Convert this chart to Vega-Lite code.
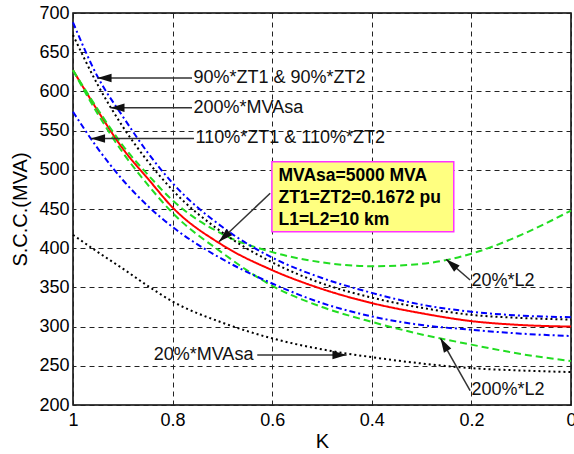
{
  "$schema": "https://vega.github.io/schema/vega-lite/v6.json",
  "width": 498,
  "height": 392,
  "autosize": {"type": "none"},
  "padding": {"left": 73, "top": 13, "right": 3, "bottom": 49},
  "background": "white",
  "config": {
    "font": "Liberation Sans",
    "view": {"stroke": "black", "strokeWidth": 1.5},
    "axis": {
      "grid": true,
      "gridColor": "#222222",
      "gridDash": [5, 4],
      "gridWidth": 1,
      "gridOpacity": 1,
      "domain": false,
      "ticks": false,
      "labelOverlap": false,
      "labelFlush": false,
      "labelFont": "Liberation Sans",
      "labelFontSize": 18,
      "labelColor": "black",
      "titleFont": "Liberation Sans",
      "titleFontSize": 20,
      "titleFontWeight": "normal",
      "titleColor": "black"
    }
  },
  "datasets": {
    "curves": [
      {"K": 1, "v": 627, "s": "base"}, {"K": 0.95, "v": 575, "s": "base"}, {"K": 0.9, "v": 527, "s": "base"}, {"K": 0.85, "v": 489, "s": "base"}, {"K": 0.8, "v": 452, "s": "base"}, {"K": 0.7, "v": 404, "s": "base"}, {"K": 0.6, "v": 372, "s": "base"}, {"K": 0.5, "v": 348, "s": "base"}, {"K": 0.4, "v": 330, "s": "base"}, {"K": 0.3, "v": 317, "s": "base"}, {"K": 0.2, "v": 307, "s": "base"}, {"K": 0.1, "v": 302, "s": "base"}, {"K": 0, "v": 300, "s": "base"},
      {"K": 1, "v": 627, "s": "L2_20"}, {"K": 0.95, "v": 577, "s": "L2_20"}, {"K": 0.9, "v": 531, "s": "L2_20"}, {"K": 0.85, "v": 494, "s": "L2_20"}, {"K": 0.8, "v": 461, "s": "L2_20"}, {"K": 0.7, "v": 418, "s": "L2_20"}, {"K": 0.6, "v": 395, "s": "L2_20"}, {"K": 0.5, "v": 382, "s": "L2_20"}, {"K": 0.4, "v": 377, "s": "L2_20"}, {"K": 0.3, "v": 380, "s": "L2_20"}, {"K": 0.2, "v": 393, "s": "L2_20"}, {"K": 0.1, "v": 417, "s": "L2_20"}, {"K": 0, "v": 448, "s": "L2_20"},
      {"K": 1, "v": 627, "s": "L2_200"}, {"K": 0.95, "v": 571, "s": "L2_200"}, {"K": 0.9, "v": 522, "s": "L2_200"}, {"K": 0.85, "v": 481, "s": "L2_200"}, {"K": 0.8, "v": 445, "s": "L2_200"}, {"K": 0.7, "v": 394, "s": "L2_200"}, {"K": 0.6, "v": 352, "s": "L2_200"}, {"K": 0.5, "v": 325, "s": "L2_200"}, {"K": 0.4, "v": 306, "s": "L2_200"}, {"K": 0.3, "v": 290, "s": "L2_200"}, {"K": 0.2, "v": 277, "s": "L2_200"}, {"K": 0.1, "v": 265, "s": "L2_200"}, {"K": 0, "v": 256, "s": "L2_200"},
      {"K": 1, "v": 688, "s": "ZT_90"}, {"K": 0.95, "v": 618, "s": "ZT_90"}, {"K": 0.9, "v": 568, "s": "ZT_90"}, {"K": 0.85, "v": 522, "s": "ZT_90"}, {"K": 0.8, "v": 483, "s": "ZT_90"}, {"K": 0.7, "v": 427, "s": "ZT_90"}, {"K": 0.6, "v": 388, "s": "ZT_90"}, {"K": 0.5, "v": 362, "s": "ZT_90"}, {"K": 0.4, "v": 343, "s": "ZT_90"}, {"K": 0.3, "v": 328, "s": "ZT_90"}, {"K": 0.2, "v": 319, "s": "ZT_90"}, {"K": 0.1, "v": 314, "s": "ZT_90"}, {"K": 0, "v": 312, "s": "ZT_90"},
      {"K": 1, "v": 574, "s": "ZT_110"}, {"K": 0.95, "v": 527, "s": "ZT_110"}, {"K": 0.9, "v": 487, "s": "ZT_110"}, {"K": 0.85, "v": 454, "s": "ZT_110"}, {"K": 0.8, "v": 427, "s": "ZT_110"}, {"K": 0.7, "v": 386, "s": "ZT_110"}, {"K": 0.6, "v": 355, "s": "ZT_110"}, {"K": 0.5, "v": 330, "s": "ZT_110"}, {"K": 0.4, "v": 313, "s": "ZT_110"}, {"K": 0.3, "v": 302, "s": "ZT_110"}, {"K": 0.2, "v": 296, "s": "ZT_110"}, {"K": 0.1, "v": 291, "s": "ZT_110"}, {"K": 0, "v": 288, "s": "ZT_110"},
      {"K": 1, "v": 672, "s": "MVA_200"}, {"K": 0.95, "v": 608, "s": "MVA_200"}, {"K": 0.9, "v": 555, "s": "MVA_200"}, {"K": 0.85, "v": 511, "s": "MVA_200"}, {"K": 0.8, "v": 474, "s": "MVA_200"}, {"K": 0.7, "v": 420, "s": "MVA_200"}, {"K": 0.6, "v": 382, "s": "MVA_200"}, {"K": 0.5, "v": 355, "s": "MVA_200"}, {"K": 0.4, "v": 337, "s": "MVA_200"}, {"K": 0.3, "v": 324, "s": "MVA_200"}, {"K": 0.2, "v": 315, "s": "MVA_200"}, {"K": 0.1, "v": 311, "s": "MVA_200"}, {"K": 0, "v": 309, "s": "MVA_200"},
      {"K": 1, "v": 417, "s": "MVA_20"}, {"K": 0.95, "v": 395, "s": "MVA_20"}, {"K": 0.9, "v": 374, "s": "MVA_20"}, {"K": 0.85, "v": 352, "s": "MVA_20"}, {"K": 0.8, "v": 332, "s": "MVA_20"}, {"K": 0.7, "v": 305, "s": "MVA_20"}, {"K": 0.6, "v": 285, "s": "MVA_20"}, {"K": 0.5, "v": 271, "s": "MVA_20"}, {"K": 0.4, "v": 261, "s": "MVA_20"}, {"K": 0.3, "v": 253, "s": "MVA_20"}, {"K": 0.2, "v": 247, "s": "MVA_20"}, {"K": 0.1, "v": 244, "s": "MVA_20"}, {"K": 0, "v": 242, "s": "MVA_20"}
    ],
    "box": [{"K": 0.6006, "K2": 0.2354, "v": 421, "v2": 510.3}],
    "boxtext": [
      {"K": 0.5874, "v": 492.1, "label": "MVAsa=5000 MVA"},
      {"K": 0.5874, "v": 464.4, "label": "ZT1=ZT2=0.1672 pu"},
      {"K": 0.5874, "v": 436, "label": "L1=L2=10 km"}
    ],
    "arrows": [
      {"K": 0.761, "v": 617.2, "K2": 0.951, "v2": 617.2},
      {"K": 0.761, "v": 579, "K2": 0.925, "v2": 579},
      {"K": 0.757, "v": 540, "K2": 0.964, "v2": 540},
      {"K": 0.2026, "v": 359.4, "K2": 0.2506, "v2": 385.8},
      {"K": 0.2026, "v": 218.2, "K2": 0.262, "v2": 285},
      {"K": 0.63, "v": 263.8, "K2": 0.4506, "v2": 263.8},
      {"K": 0.604, "v": 470, "K2": 0.707, "v2": 408.3}
    ],
    "heads": [
      {"K": 0.951, "v": 617.2, "a": 270},
      {"K": 0.925, "v": 579, "a": 270},
      {"K": 0.964, "v": 540, "a": 270},
      {"K": 0.2506, "v": 385.8, "a": 311},
      {"K": 0.262, "v": 285, "a": 330},
      {"K": 0.4506, "v": 263.8, "a": 90},
      {"K": 0.707, "v": 408.3, "a": 227}
    ],
    "labels": [
      {"K": 0.758, "v": 617.2, "label": "90%*ZT1 & 90%*ZT2"},
      {"K": 0.758, "v": 579, "label": "200%*MVAsa"},
      {"K": 0.754, "v": 540, "label": "110%*ZT1 & 110%*ZT2"},
      {"K": 0.2, "v": 358.2, "label": "20%*L2"},
      {"K": 0.2, "v": 219.1, "label": "200%*L2"},
      {"K": 0.838, "v": 263.8, "label": "20%*MVAsa"}
    ]
  },
  "encoding": {
    "x": {"field": "K", "type": "quantitative", "title": "K",
          "scale": {"domain": [0, 1], "reverse": true, "nice": false},
          "axis": {"values": [1, 0.8, 0.6, 0.4, 0.2, 0], "format": "~g", "labelPadding": 6, "titlePadding": 2}},
    "y": {"field": "v", "type": "quantitative", "title": "S.C.C.(MVA)",
          "scale": {"domain": [200, 700], "nice": false, "zero": false},
          "axis": {"values": [200, 250, 300, 350, 400, 450, 500, 550, 600, 650, 700], "labelPadding": 4, "titlePadding": 8}}
  },
  "layer": [
    {
      "data": {"name": "curves"},
      "mark": {"type": "line", "interpolate": "monotone", "strokeWidth": 2},
      "encoding": {
        "color": {"field": "s", "type": "nominal", "legend": null,
                  "scale": {"domain": ["base", "L2_20", "L2_200", "ZT_90", "ZT_110", "MVA_200", "MVA_20"],
                            "range": ["#ff0000", "#22dd22", "#22dd22", "#0000ff", "#0000ff", "#000000", "#000000"]}},
        "strokeDash": {"field": "s", "type": "nominal", "legend": null,
                  "scale": {"domain": ["base", "L2_20", "L2_200", "ZT_90", "ZT_110", "MVA_200", "MVA_20"],
                            "range": [[1, 0], [7, 4], [7, 4], [6, 3, 2, 3], [6, 3, 2, 3], [2, 3], [2, 3]]}}
      }
    },
    {
      "data": {"name": "box"},
      "mark": {"type": "rect", "fill": "#ffff80", "stroke": "#ff33ff", "strokeWidth": 1.5},
      "encoding": {
        "x2": {"field": "K2"},
        "y2": {"field": "v2"}
      }
    },
    {
      "data": {"name": "boxtext"},
      "mark": {"type": "text", "align": "left", "baseline": "middle", "fontSize": 17.5, "fontWeight": "bold", "color": "black"},
      "encoding": {
        "text": {"field": "label"}
      }
    },
    {
      "data": {"name": "arrows"},
      "mark": {"type": "rule", "color": "#333333", "strokeWidth": 1.5},
      "encoding": {
        "x2": {"field": "K2"},
        "y2": {"field": "v2"}
      }
    },
    {
      "data": {"name": "heads"},
      "mark": {"type": "point", "filled": true, "color": "#111111", "opacity": 1, "shape": "M0,0L0.3,1L-0.3,1Z", "size": 800},
      "encoding": {
        "angle": {"field": "a", "type": "quantitative", "scale": null}
      }
    },
    {
      "data": {"name": "labels"},
      "mark": {"type": "text", "align": "left", "baseline": "middle", "fontSize": 18, "color": "#111111"},
      "encoding": {
        "text": {"field": "label"}
      }
    }
  ]
}
